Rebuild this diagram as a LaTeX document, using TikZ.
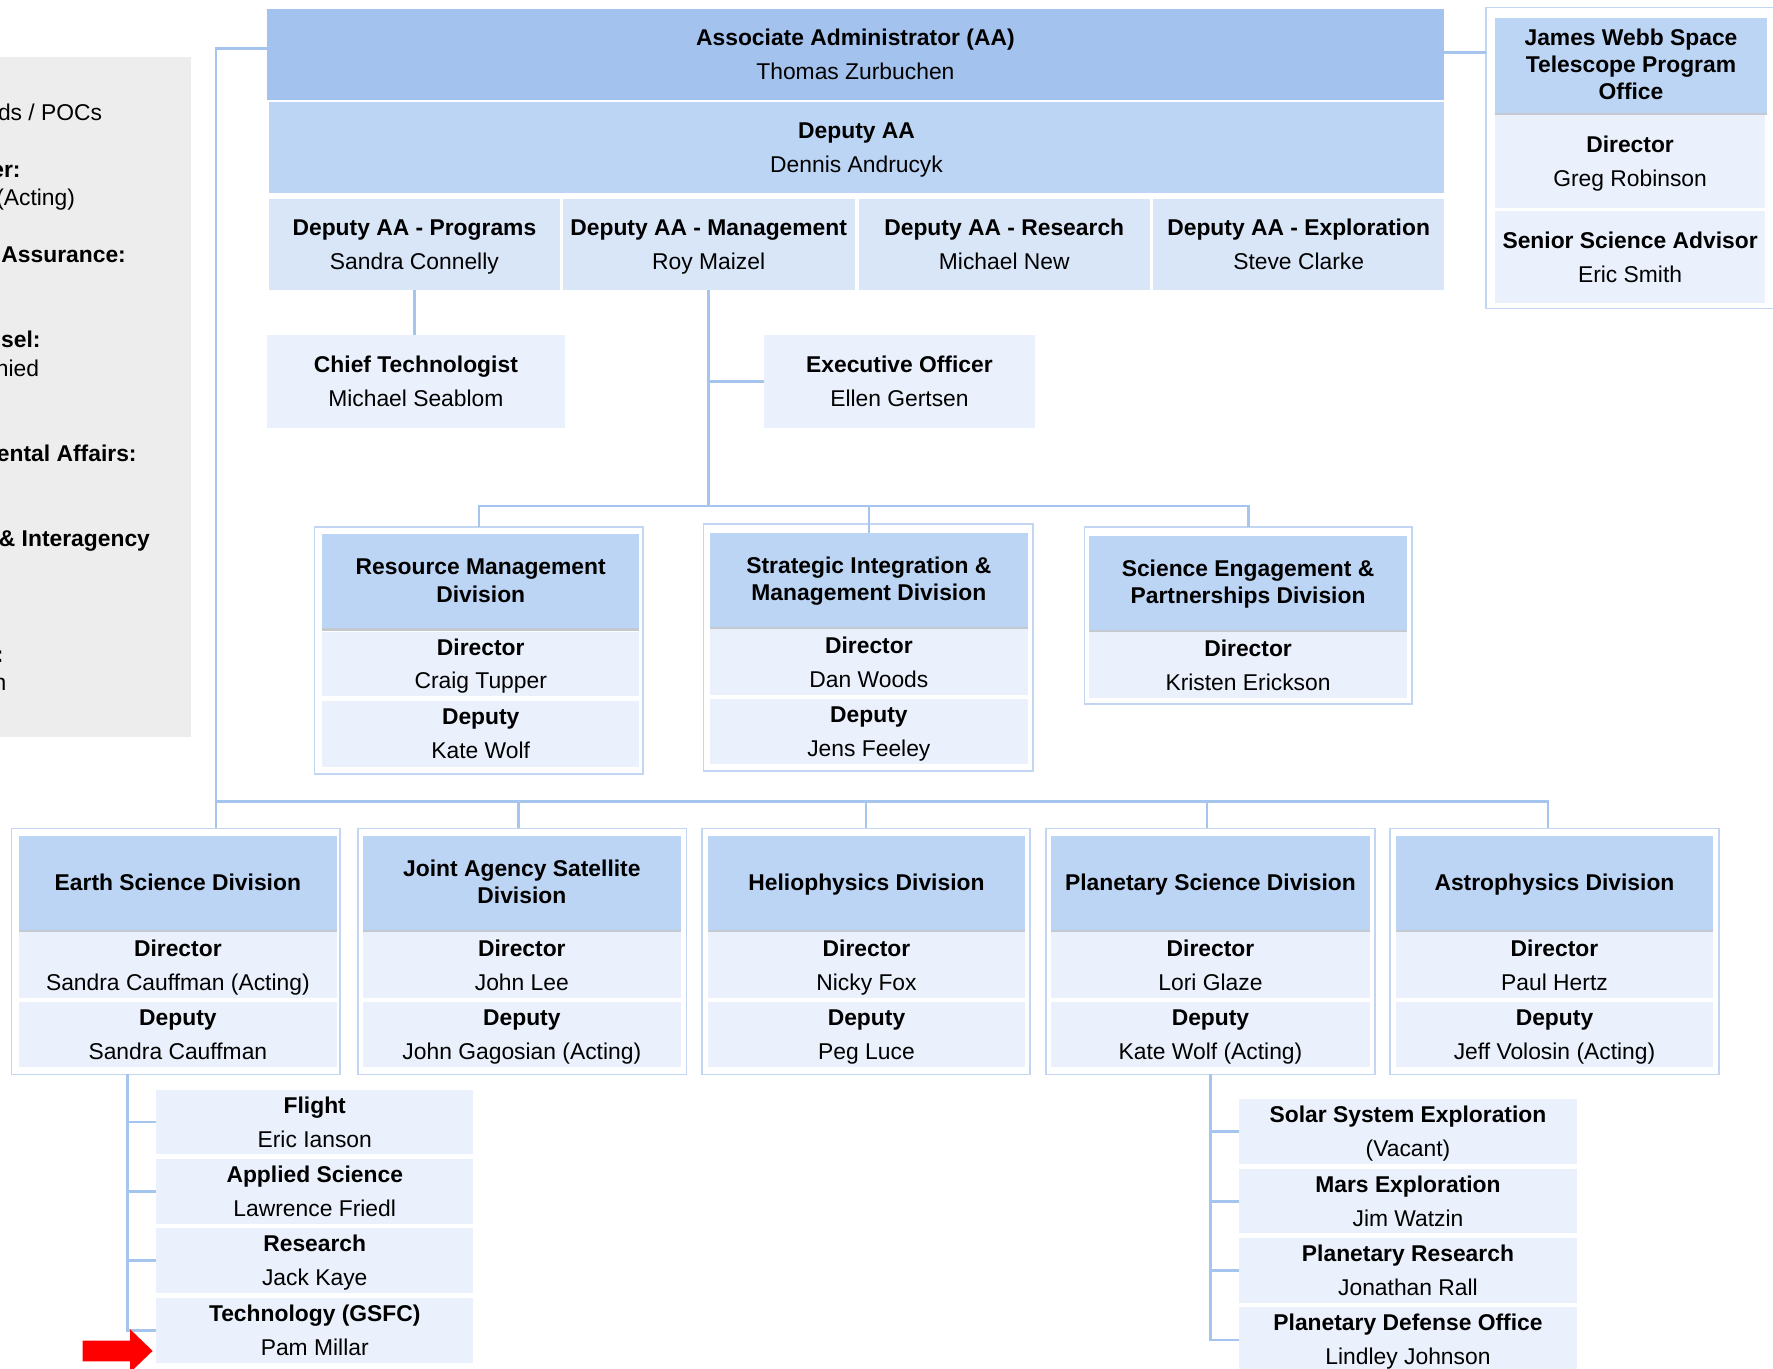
\documentclass[tikz,border=0pt]{standalone}
\usepackage{fontspec}
\setmainfont{Liberation Sans}
\definecolor{aaC}{RGB}{163,194,237}
\definecolor{hdC}{RGB}{189,213,244}
\definecolor{rowC}{RGB}{217,230,248}
\definecolor{cellC}{RGB}{234,241,252}
\definecolor{lineC}{RGB}{165,196,238}
\definecolor{frameC}{RGB}{194,214,243}
\definecolor{panelC}{RGB}{237,237,237}
\definecolor{arrowC}{RGB}{255,0,0}
\definecolor{shadeC}{RGB}{196,200,208}
\tikzset{
 cellbase/.style={rectangle, inner sep=0pt, outer sep=0pt, draw=none, align=center, text=black},
 twoline/.style={font=\fontsize{10.1pt}{15pt}\selectfont},
 hdrline/.style={font=\fontsize{10.1pt}{12pt}\selectfont\bfseries},
 framebox/.style={rectangle, inner sep=0pt, outer sep=0pt, draw=frameC, line width=0.75pt, fill=white},
 conn/.style={draw=lineC, line width=1.1pt},
 paneltext/.style={anchor=base east, font=\fontsize{10.1pt}{12pt}\selectfont, inner sep=0pt, text=black},
 shadeline/.style={draw=shadeC, line width=1pt},
}
\newcommand\cellbox[7]{%
 \node[cellbase, #6, minimum width={(#4-#2)*0.5pt}, minimum height={(#5-#3)*0.5pt}] (#1) at ({(#2+#4)/2},{(#3+#5)/2}) {#7};}
\newcommand\framebx[5]{%
 \node[framebox, minimum width={(#4-#2)*0.5pt}, minimum height={(#5-#3)*0.5pt}] (#1) at ({(#2+#4)/2},{(#3+#5)/2}) {};}
\newcommand\hdrbox[6]{%
 \cellbox{#1}{#2}{#3}{#4}{#5}{fill=hdC, hdrline}{\rule{0pt}{8.5pt}#6\rule[-2.2pt]{0pt}{2.2pt}}%
 \draw[shadeline] ([yshift=-0.5pt]#1.south west) -- ([yshift=-0.5pt]#1.south east);}
\newcommand\tl[2]{\textbf{\rule{0pt}{9.36pt}#1}\\#2\rule[-2.2pt]{0pt}{2.2pt}}
\begin{document}
\begin{tikzpicture}[x=0.5pt,y=-0.5pt]
\useasboundingbox (0,0) rectangle (1568,1210);
\clip (0,0) rectangle (1568,1210);
\fill[white] (0,0) rectangle (1568,1210);

% left grey panel (cut off)
\fill[panelC] (-10,50.1) rectangle (169.2,651.5);
\node[paneltext] (p1) at (90.7,106.5) {ds / POCs};
\node[paneltext] (p2) at (18.6,157) {\bfseries er:};
\node[paneltext] (p3) at (66.7,181.5) {(Acting)};
\node[paneltext] (p4) at (111.7,232) {\bfseries Assurance:};
\node[paneltext] (p5) at (36.2,307.7) {\bfseries nsel:};
\node[paneltext] (p6) at (34.9,332.7) {hied};
\node[paneltext] (p7) at (121.2,408.5) {\bfseries ental Affairs:};
\node[paneltext] (p8) at (133,483.5) {\bfseries \& Interagency};
\node[paneltext] (p9) at (3.4,586) {\bfseries :};
\node[paneltext] (p10) at (6.1,611) {n};

% top
\cellbox{aa}{236}{8}{1277}{88}{fill=aaC, twoline}{\tl{Associate Administrator (AA)}{Thomas Zurbuchen}}
\cellbox{daa}{238}{90.5}{1277}{171}{fill=hdC, twoline}{\tl{Deputy AA}{Dennis Andrucyk}}
\cellbox{progs}{238}{176.3}{495}{256.5}{fill=rowC, twoline}{\tl{Deputy AA - Programs}{Sandra Connelly}}
\cellbox{mgmt}{497.5}{176.3}{756}{256.5}{fill=rowC, twoline}{\tl{Deputy AA - Management}{Roy Maizel}}
\cellbox{resrch}{759.3}{176.3}{1017}{256.5}{fill=rowC, twoline}{\tl{Deputy AA - Research}{Michael New}}
\cellbox{explor}{1020}{176.3}{1277}{256.5}{fill=rowC, twoline}{\tl{Deputy AA - Exploration}{Steve Clarke}}
\cellbox{chief}{236}{296.3}{499.6}{378.8}{fill=cellC, twoline}{\tl{Chief Technologist}{Michael Seablom}}
\cellbox{exec}{675.4}{296.3}{915.5}{378.8}{fill=cellC, twoline}{\tl{Executive Officer}{Ellen Gertsen}}

% JWST
\framebx{jwsto}{1314.4}{6.5}{1580}{272.7}
\hdrbox{jwsth}{1322.5}{16.2}{1562.3}{99.7}{James Webb Space\\Telescope Program\\Office}
\cellbox{jwstd}{1322.5}{101.7}{1560.7}{184.2}{fill=cellC, twoline}{\tl{Director}{Greg Robinson}}
\cellbox{jwsts}{1322.5}{186.3}{1560.7}{268.3}{fill=cellC, twoline}{\tl{Senior Science Advisor}{Eric Smith}}

% middle divisions
\framebx{rmdo}{278.2}{465.8}{568.6}{684.5}
\hdrbox{rmdh}{285}{472.6}{565.3}{555.7}{Resource Management\\Division}
\cellbox{rmdd}{285}{558.7}{565.3}{615.5}{fill=cellC, twoline}{\tl{Director}{Craig Tupper}}
\cellbox{rmdp}{285}{620}{565.3}{678}{fill=cellC, twoline}{\tl{Deputy}{Kate Wolf}}

\framebx{simdo}{622.2}{463.7}{913.6}{681.9}
\hdrbox{simdh}{627.8}{471.7}{909}{554.2}{Strategic Integration \&\\Management Division}
\cellbox{simdd}{627.8}{556.6}{909}{614.7}{fill=cellC, twoline}{\tl{Director}{Dan Woods}}
\cellbox{simdp}{627.8}{618.5}{909}{675.7}{fill=cellC, twoline}{\tl{Deputy}{Jens Feeley}}

\framebx{sepdo}{959}{465.8}{1249}{622.9}
\hdrbox{sepdh}{963.1}{473.8}{1244.4}{557.2}{Science Engagement \&\\Partnerships Division}
\cellbox{sepdd}{963.1}{559.2}{1244.4}{617.6}{fill=cellC, twoline}{\tl{Director}{Kristen Erickson}}

% science divisions
\framebx{eartho}{10.2}{732.6}{300.5}{950.2}
\hdrbox{earthh}{17}{739.1}{297.6}{822.5}{Earth Science Division}
\cellbox{earthd}{17}{824.6}{297.6}{882.9}{fill=cellC, twoline}{\tl{Director}{Sandra Cauffman (Acting)}}
\cellbox{earthp}{17}{885.9}{297.6}{943.4}{fill=cellC, twoline}{\tl{Deputy}{Sandra Cauffman}}

\framebx{jaso}{316.3}{732.6}{607}{950.2}
\hdrbox{jash}{320.8}{739.1}{602.2}{822.5}{Joint Agency Satellite\\Division}
\cellbox{jasd}{320.8}{824.6}{602.2}{882.9}{fill=cellC, twoline}{\tl{Director}{John Lee}}
\cellbox{jasp}{320.8}{885.9}{602.2}{943.4}{fill=cellC, twoline}{\tl{Deputy}{John Gagosian (Acting)}}

\framebx{helioo}{621.1}{732.6}{910.9}{950.2}
\hdrbox{helioh}{626.1}{739.1}{906.5}{822.5}{Heliophysics Division}
\cellbox{heliod}{626.1}{824.6}{906.5}{882.9}{fill=cellC, twoline}{\tl{Director}{Nicky Fox}}
\cellbox{heliop}{626.1}{885.9}{906.5}{943.4}{fill=cellC, twoline}{\tl{Deputy}{Peg Luce}}

\framebx{planeto}{925}{732.6}{1216}{950.2}
\hdrbox{planeth}{929.3}{739.1}{1211.7}{822.5}{Planetary Science Division}
\cellbox{planetd}{929.3}{824.6}{1211.7}{882.9}{fill=cellC, twoline}{\tl{Director}{Lori Glaze}}
\cellbox{planetp}{929.3}{885.9}{1211.7}{943.4}{fill=cellC, twoline}{\tl{Deputy}{Kate Wolf (Acting)}}

\framebx{astroo}{1229}{732.6}{1520}{950.2}
\hdrbox{astroh}{1234.5}{739.1}{1515}{822.5}{Astrophysics Division}
\cellbox{astrod}{1234.5}{824.6}{1515}{882.9}{fill=cellC, twoline}{\tl{Director}{Paul Hertz}}
\cellbox{astrop}{1234.5}{885.9}{1515}{943.4}{fill=cellC, twoline}{\tl{Deputy}{Jeff Volosin (Acting)}}

% Earth sub-units
\cellbox{flight}{138.2}{964}{418.5}{1020.9}{fill=cellC, twoline}{\tl{Flight}{Eric Ianson}}
\cellbox{applied}{138.2}{1025.3}{418.5}{1082.5}{fill=cellC, twoline}{\tl{Applied Science}{Lawrence Friedl}}
\cellbox{eresearch}{138.2}{1086.3}{418.5}{1143.3}{fill=cellC, twoline}{\tl{Research}{Jack Kaye}}
\cellbox{tech}{138.2}{1148.2}{418.5}{1205.2}{fill=cellC, twoline}{\tl{Technology (GSFC)}{Pam Millar}}

% Planetary sub-units
\cellbox{sse}{1095.9}{972}{1394.5}{1029.5}{fill=cellC, twoline}{\tl{Solar System Exploration}{(Vacant)}}
\cellbox{mars}{1095.9}{1033.9}{1394.5}{1090.8}{fill=cellC, twoline}{\tl{Mars Exploration}{Jim Watzin}}
\cellbox{pres}{1095.9}{1094.6}{1394.5}{1152.7}{fill=cellC, twoline}{\tl{Planetary Research}{Jonathan Rall}}
\cellbox{pdo}{1095.9}{1156.2}{1394.5}{1213.5}{fill=cellC, twoline}{\tl{Planetary Defense Office}{Lindley Johnson}}

% connectors
\coordinate (busT) at (425,447.5);
\coordinate (busL) at (191,709);
\coordinate (esub) at (112.9,950.2);
\draw[conn] ([yshift=2.65pt]aa.west) -| (busL) -- (busL |- eartho.north);
\draw[conn] (busL) -| ([xshift=-2.8pt]astroo.north);
\draw[conn] ([xshift=-1.5pt]jaso.north) -- ([xshift=-1.5pt]jaso.north |- busL);
\draw[conn] (helioo.north) -- (helioo.north |- busL);
\draw[conn] ([xshift=-1.5pt]planeto.north) -- ([xshift=-1.5pt]planeto.north |- busL);
\draw[conn] ([yshift=0.7pt]aa.east) -- ([yshift=0.7pt]aa.east -| jwsto.west);
\draw[conn] (progs.south) -- (progs.south |- chief.north);
\draw[conn] (mgmt.south) -- (mgmt.south |- busT);
\draw[conn] (exec.west) -- (exec.west -| mgmt.south);
\draw[conn] (rmdo.north) |- (busT -| sepdo.north) -- (sepdo.north);
\draw[conn] (simdh.north) -- (simdh.north |- busT);
\draw[conn] (esub) |- (tech.west);
\draw[conn] (esub |- flight.west) -- (flight.west);
\draw[conn] (esub |- applied.west) -- (applied.west);
\draw[conn] (esub |- eresearch.west) -- (eresearch.west);
\draw[conn] (planeto.south) |- (pdo.west);
\draw[conn] (planeto.south |- sse.west) -- (sse.west);
\draw[conn] (planeto.south |- mars.west) -- (mars.west);
\draw[conn] (planeto.south |- pres.west) -- (pres.west);

% red arrow
\fill[arrowC] (73,1185.5) -- (115,1185.5) -- (115,1175.5) -- (135,1194.7) -- (115,1213.9) -- (115,1204) -- (73,1204) -- cycle;
\end{tikzpicture}
\end{document}
